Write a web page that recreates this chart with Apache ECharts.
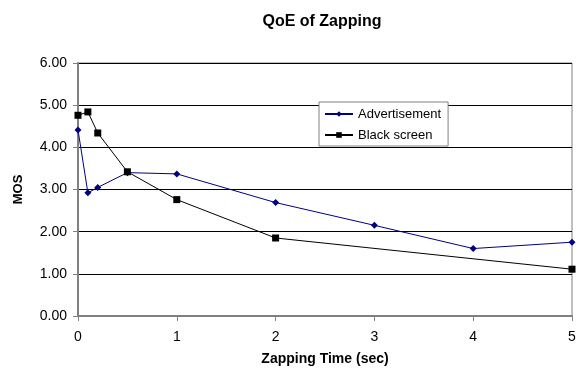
<!DOCTYPE html>
<html>
<head>
<meta charset="utf-8">
<script src="https://cdn.jsdelivr.net/npm/echarts@6/dist/echarts.min.js"></script>
<style>
  html, body { margin: 0; padding: 0; background: #fff; }
  #main { width: 583px; height: 377px; }
</style>
</head>
<body>
<div id="main"></div>
<script>
// zapping time (sec) and MOS values
var adTime = [0, 0.1, 0.2, 0.5, 1, 2, 3, 4, 5];
var adMos = [4.41, 2.92, 3.05, 3.40, 3.37, 2.69, 2.15, 1.60, 1.75];
var blackTime = [0, 0.1, 0.2, 0.5, 1, 2, 5];
var blackMos = [4.76, 4.84, 4.34, 3.42, 2.76, 1.85, 1.11];

var font = '"Liberation Sans", Arial, sans-serif';

function pairs(xs, ys) {
  return xs.map(function (x, i) { return [x, ys[i]]; });
}

var chart = echarts.init(document.getElementById('main'));
var option = {
  animation: false,
  backgroundColor: '#fff',
  title: {
    text: 'QoE of Zapping',
    left: 317, top: 9,
    textAlign: 'center',
    textStyle: { fontFamily: font, fontSize: 16, fontWeight: 'bold', color: '#000' }
  },
  legend: {
    orient: 'vertical',
    left: 319, top: 102,
    padding: [4, 7, 3, 5],
    itemGap: 5,
    itemWidth: 28,
    itemHeight: 7,
    backgroundColor: '#fff',
    borderColor: '#808080',
    borderWidth: 1,
    textStyle: { fontFamily: font, fontSize: 13, lineHeight: 16, color: '#000' },
    data: ['Advertisement', 'Black screen']
  },
  grid: {
    left: 78, right: 11, top: 63, bottom: 61,
    show: true,
    borderColor: '#808080',
    borderWidth: 1
  },
  xAxis: {
    type: 'value',
    min: 0, max: 5, interval: 1,
    name: 'Zapping Time (sec)',
    nameLocation: 'middle',
    nameGap: 36,
    nameTextStyle: { fontFamily: font, fontSize: 14, fontWeight: 'bold', color: '#000' },
    axisLine: { lineStyle: { color: '#808080', width: 2 } },
    axisTick: { show: true, length: 5, lineStyle: { color: '#808080' } },
    axisLabel: { fontFamily: font, fontSize: 14, color: '#000', margin: 14 },
    splitLine: { show: false }
  },
  yAxis: {
    type: 'value',
    min: 0, max: 6, interval: 1,
    name: 'MOS',
    nameLocation: 'middle',
    nameGap: 53,
    nameRotate: 90,
    nameTextStyle: { fontFamily: font, fontSize: 13, fontWeight: 'bold', color: '#000' },
    axisLine: { show: true, lineStyle: { color: '#808080', width: 2 } },
    axisTick: { show: true, length: 5, lineStyle: { color: '#808080' } },
    axisLabel: {
      fontFamily: font, fontSize: 14, color: '#000', margin: 11,
      formatter: function (v) { return v.toFixed(2); }
    },
    splitLine: { show: true, lineStyle: { color: '#000', width: 1 } }
  },
  series: [{
    name: 'Advertisement',
    type: 'line',
    data: pairs(adTime, adMos),
    symbol: 'diamond',
    symbolSize: 7,
    color: '#000080',
    lineStyle: { color: '#000080', width: 1 },
    itemStyle: { color: '#000080' }
  }, {
    name: 'Black screen',
    type: 'line',
    data: pairs(blackTime, blackMos),
    symbol: 'rect',
    symbolSize: 7,
    color: '#000',
    lineStyle: { color: '#000', width: 1 },
    itemStyle: { color: '#000' }
  }]
};
chart.setOption(option);
</script>
</body>
</html>
